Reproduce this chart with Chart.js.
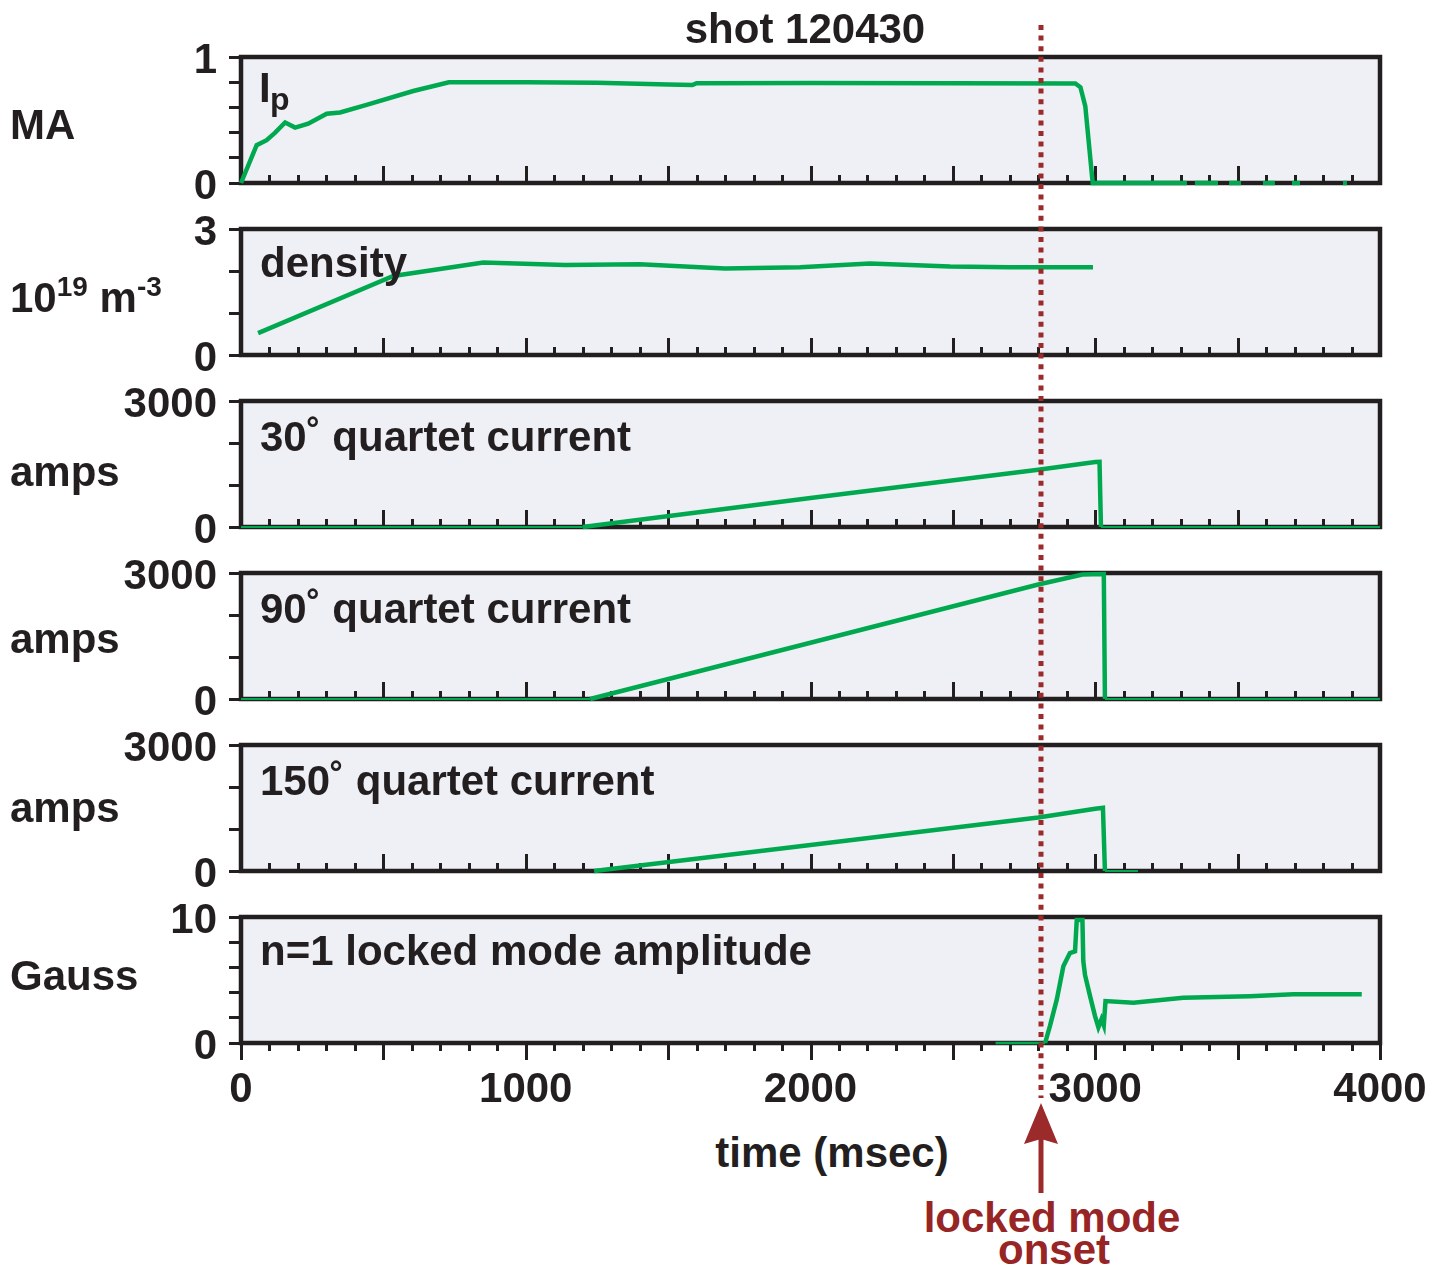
<!DOCTYPE html>
<html>
<head>
<meta charset="utf-8">
<title>shot 120430</title>
<script src="https://cdn.jsdelivr.net/npm/chart.js@4.4.0/dist/chart.umd.min.js"></script>
<style>
  body { margin: 0; background: #fff; }
  #page { position: relative; width: 1447px; height: 1268px; overflow: hidden;
          font-family: 'Liberation Sans', Arial, sans-serif; font-weight: bold; color: #231f20; }
  canvas.panel { position: absolute; left: 0; }
  .lbl { position: absolute; font-size: 42px; line-height: 42px; white-space: nowrap; z-index: 2; }
  .ctr { text-align: center; width: 400px; }
  .sup { font-size: 28px; position: relative; top: -16px; }
  .red { color: #982526; }
  #overlay { position: absolute; left: 0; top: 0; z-index: 3; pointer-events: none; }
</style>
</head>
<body>
<div id="page">
  <div class="lbl ctr" style="left:605px; top:8px;">shot 120430</div>

  <div class="lbl" style="left:10px; top:104px;">MA</div>
  <div class="lbl" style="left:10px; top:277px;">10<span class="sup">19</span> m<span class="sup">-3</span></div>
  <div class="lbl" style="left:10px; top:451px;">amps</div>
  <div class="lbl" style="left:10px; top:618px;">amps</div>
  <div class="lbl" style="left:10px; top:787px;">amps</div>
  <div class="lbl" style="left:10px; top:955px;">Gauss</div>

  <div class="lbl" style="left:259px; top:67px;">I</div>
  <div class="lbl" style="left:270px; top:78px; font-size:32px;">p</div>
  <div class="lbl" style="left:260px; top:242px;">density</div>
  <div class="lbl" style="left:260px; top:416px;">30˚ quartet current</div>
  <div class="lbl" style="left:260px; top:588px;">90˚ quartet current</div>
  <div class="lbl" style="left:260px; top:760px;">150˚ quartet current</div>
  <div class="lbl" style="left:260px; top:930px;">n=1 locked mode amplitude</div>

  <div class="lbl ctr" style="left:632px; top:1132px;">time (msec)</div>
  <div class="lbl ctr red" style="left:852px; top:1197px;">locked mode</div>
  <div class="lbl ctr red" style="left:854px; top:1229px;">onset</div>

  <canvas id="overlay" width="1447" height="1268"></canvas>
</div>

<script>
// plasma current Ip (MA); nulls leave gaps in the trace after the disruption
var ipTime  = [0, 55, 90, 120, 155, 190, 236, 301, 348, 441, 605, 730, 1000, 1250, 1500, 1585, 1600, 2000, 2500, 2930,
               2948, 2965, 2991, 3322, 3336, 3350, 3431, 3450, 3470, 3512, 3550, 3589, 3631, 3660, 3691, 3719, 3800, 3870, 3884];
var ipValue = [0, 0.30, 0.34, 0.40, 0.48, 0.44, 0.47, 0.55, 0.56, 0.62, 0.73, 0.80, 0.80, 0.796, 0.782, 0.778, 0.792, 0.793, 0.792, 0.79,
               0.76, 0.61, 0, 0, null, 0, 0, null, 0, 0, null, 0, 0, null, 0, 0, null, 0, 0];

// line averaged density (1e19 m^-3)
var denTime  = [60, 535, 851, 1138, 1400, 1700, 1963, 2209, 2490, 2700, 2992];
var denValue = [0.52, 1.88, 2.20, 2.14, 2.16, 2.06, 2.09, 2.18, 2.11, 2.09, 2.09];

// coil quartet currents (amps)
var q30Time   = [0, 1200, 2000, 2800, 3000, 3015, 3020, 4000];
var q30Value  = [0, 0, 690, 1365, 1545, 1550, 0, 0];
var q90Time   = [0, 1226, 2000, 2800, 2955, 3030, 3034, 4000];
var q90Value  = [0, 0, 1340, 2725, 2965, 2975, 0, 0];
var q150Time  = [1240, 2000, 2800, 3000, 3027, 3034, 3150];
var q150Value = [0, 620, 1272, 1480, 1505, 0, 0];

// n=1 locked mode amplitude (Gauss)
var lmTime  = [2650, 2824, 2841, 2865, 2888, 2911, 2929, 2935, 2955, 2958, 2964, 2982, 2999, 3011, 3022, 3030, 3036,
               3134, 3309, 3543, 3696, 3936];
var lmValue = [0, 0, 1.36, 3.46, 6.09, 7.14, 7.27, 9.76, 9.76, 6.5, 5.4, 3.7, 2.15, 1.24, 1.89, 1.4, 3.33,
               3.2, 3.6, 3.72, 3.86, 3.86];

// axes
var timeTicks  = [0, 1000, 2000, 3000, 4000];
var ipTicks    = [0, 0.2, 0.4, 0.6, 0.8, 1];
var denTicks   = [0, 1, 2, 3];
var ampTicks   = [0, 1000, 2000, 3000];
var gaussTicks = [0, 2, 4, 6, 8, 10];
var onsetTime  = 2810;

var INK = '#231f20';
var GREEN = '#00a94f';
var RED = '#9b2a2b';
var FONT = "'Liberation Sans', Arial, sans-serif";

var PLOT_LEFT = 241, PLOT_RIGHT = 1380, PLOT_H = 126;
var page = document.getElementById('page');

function toPoints(times, values) {
  return times.map(function (t, i) { return { x: t, y: values[i] }; });
}

// scales should not push the plot area around; the canvas padding leaves room for labels
function noScalePadding(s) {
  s.paddingTop = 0; s.paddingBottom = 0; s.paddingLeft = 0; s.paddingRight = 0;
}

// background, thick frame and the minor/major time ticks
var panelFrame = {
  id: 'panelFrame',
  beforeDraw: function (chart) {
    var a = chart.chartArea, ctx = chart.ctx;
    ctx.save();
    ctx.fillStyle = '#eff0f5';
    ctx.fillRect(a.left, a.top, a.right - a.left, a.bottom - a.top);
    ctx.restore();
  },
  beforeDatasetsDraw: function (chart, args, opts) {
    var a = chart.chartArea, ctx = chart.ctx, xs = chart.scales.x;
    ctx.save();
    ctx.strokeStyle = INK;
    ctx.lineWidth = 3;
    ctx.beginPath();
    for (var t = 0; t <= 4000; t += 100) {
      var px = Math.round(xs.getPixelForValue(t)) + 0.5;
      var len = (t % 500 === 0) ? 17 : 8;
      ctx.moveTo(px, a.bottom);
      ctx.lineTo(px, opts.outside ? a.bottom + len : a.bottom - len);
    }
    ctx.stroke();
    ctx.lineWidth = 4.5;
    ctx.strokeRect(a.left, a.top, a.right - a.left, a.bottom - a.top);
    ctx.restore();
  }
};

function makePanel(p) {
  var padTop = 40, padBottom = p.showTime ? 0 : 30, xHeight = p.showTime ? 75 : 0;
  var h = padTop + PLOT_H + padBottom + xHeight;
  var canvas = document.createElement('canvas');
  canvas.className = 'panel';
  canvas.width = 1447;
  canvas.height = h;
  canvas.style.top = (p.top - padTop) + 'px';
  page.insertBefore(canvas, page.firstChild);

  var yTicks = p.yTicks;
  return new Chart(canvas, {
    type: 'line',
    data: {
      datasets: [{
        data: toPoints(p.time, p.value),
        borderColor: GREEN,
        borderWidth: p.width,
        pointRadius: 0,
        tension: 0,
        spanGaps: false,
        clip: 8,
        segment: {
          borderWidth: function (ctx) {
            return (ctx.p0.parsed.y === 0 && ctx.p1.parsed.y === 0) ? p.zeroWidth : p.width;
          }
        }
      }]
    },
    options: {
      responsive: false,
      animation: false,
      events: [],
      layout: { padding: { top: padTop, bottom: padBottom, left: 0, right: 1447 - PLOT_RIGHT } },
      plugins: { legend: { display: false }, tooltip: { enabled: false }, panelFrame: { outside: !!p.showTime } },
      scales: {
        x: {
          type: 'linear', min: 0, max: 4000,
          display: !!p.showTime,
          grid: { display: false },
          border: { display: false },
          afterBuildTicks: function (s) { s.ticks = timeTicks.map(function (v) { return { value: v }; }); },
          afterFit: function (s) { s.height = xHeight; noScalePadding(s); },
          ticks: {
            color: INK, padding: 14, autoSkip: false, maxRotation: 0,
            font: { family: FONT, size: 42, weight: 'bold' },
            callback: function (v) { return String(v); }
          }
        },
        y: {
          type: 'linear', min: yTicks[0], max: yTicks[yTicks.length - 1],
          grid: { drawOnChartArea: false, drawTicks: true, tickLength: 12, tickWidth: 3, tickColor: INK },
          border: { display: false },
          afterBuildTicks: function (s) { s.ticks = yTicks.map(function (v) { return { value: v }; }); },
          afterFit: function (s) { s.width = PLOT_LEFT; noScalePadding(s); },
          ticks: {
            color: INK, padding: 12, autoSkip: false, labelOffset: 4,
            font: { family: FONT, size: 42, weight: 'bold' },
            callback: function (v, i) { return (i === 0 || i === yTicks.length - 1) ? String(v) : ''; }
          }
        }
      }
    },
    plugins: [panelFrame]
  });
}

var panels = [
  { top: 57,  time: ipTime,   value: ipValue,   yTicks: ipTicks,    width: 4.5, zeroWidth: 4.5 },
  { top: 229, time: denTime,  value: denValue,  yTicks: denTicks,   width: 4.5, zeroWidth: 4.5 },
  { top: 401, time: q30Time,  value: q30Value,  yTicks: ampTicks,   width: 4.5, zeroWidth: 2 },
  { top: 573, time: q90Time,  value: q90Value,  yTicks: ampTicks,   width: 4.5, zeroWidth: 2 },
  { top: 745, time: q150Time, value: q150Value, yTicks: ampTicks,   width: 4.5, zeroWidth: 2 },
  { top: 917, time: lmTime,   value: lmValue,   yTicks: gaussTicks, width: 4.5, zeroWidth: 2.5, showTime: true }
];
var charts = panels.map(makePanel);

// locked mode onset marker: dotted line through all panels plus arrow
var last = charts[charts.length - 1];
var ox = Math.round(last.scales.x.getPixelForValue(onsetTime));
var octx = document.getElementById('overlay').getContext('2d');
octx.strokeStyle = RED;
octx.fillStyle = RED;
octx.lineWidth = 5;
octx.setLineDash([5, 5.6]);
octx.beginPath();
octx.moveTo(ox, 25);
octx.lineTo(ox, 1098);
octx.stroke();
octx.setLineDash([]);
octx.beginPath();
octx.moveTo(ox, 1193);
octx.lineTo(ox, 1138);
octx.stroke();
octx.beginPath();
octx.moveTo(ox, 1103);
octx.lineTo(ox + 17, 1144);
octx.lineTo(ox, 1139);
octx.lineTo(ox - 17, 1144);
octx.closePath();
octx.fill();
</script>
</body>
</html>
